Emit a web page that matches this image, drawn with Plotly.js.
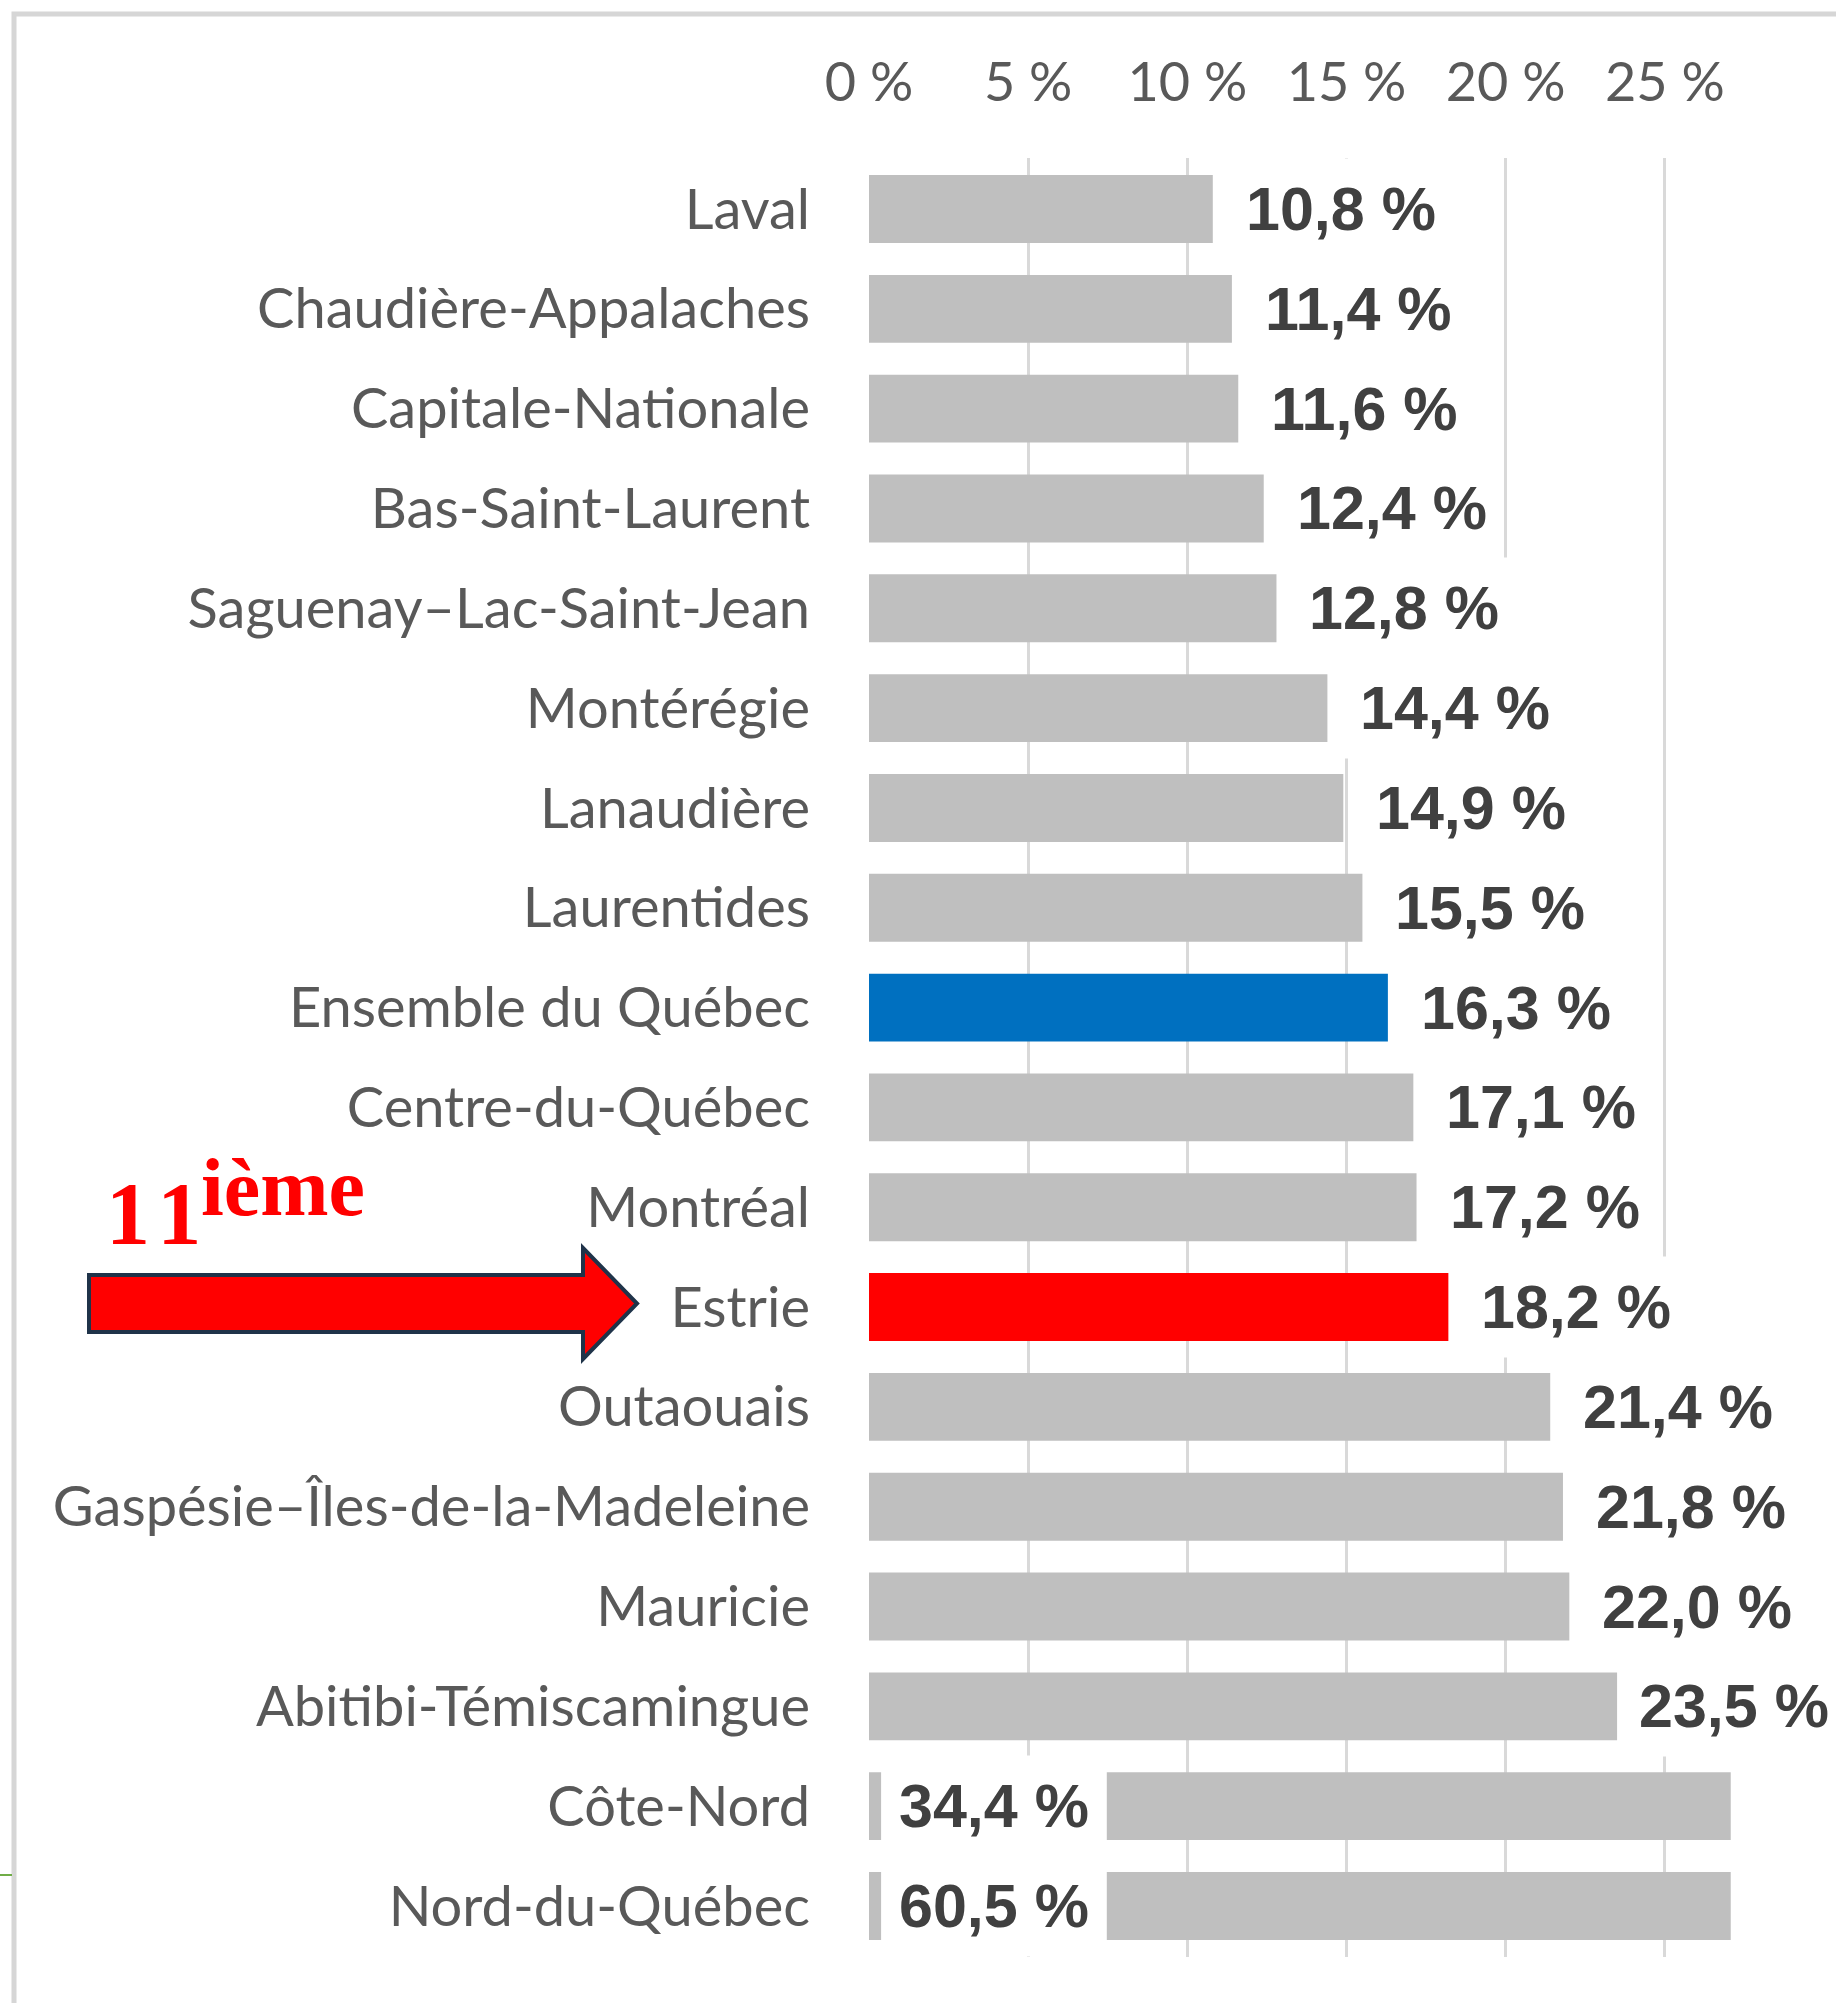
<!DOCTYPE html>
<html>
<head>
<meta charset="utf-8">
<script src="https://cdn.plot.ly/plotly-3.0.1.min.js"></script>
<style>
  html, body { margin: 0; padding: 0; background: #ffffff; }
  #chart { width: 1836px; height: 2003px; }
</style>
</head>
<body>
<div id="chart"></div>
<script>
// ---- data ----
const categories = [
  "Laval", "Chaudière-Appalaches", "Capitale-Nationale", "Bas-Saint-Laurent",
  "Saguenay–Lac-Saint-Jean", "Montérégie", "Lanaudière", "Laurentides",
  "Ensemble du Québec", "Centre-du-Québec", "Montréal", "Estrie", "Outaouais",
  "Gaspésie–Îles-de-la-Madeleine", "Mauricie", "Abitibi-Témiscamingue",
  "Côte-Nord", "Nord-du-Québec"
];
const values = [10.8, 11.4, 11.6, 12.4, 12.8, 14.4, 14.9, 15.5, 16.3, 17.1, 17.2, 18.2, 21.4, 21.8, 22.0, 23.5, 34.4, 60.5];
const tickValues = [0, 5, 10, 15, 20, 25];
const tickLabels = ["0 %", "5 %", "10 %", "15 %", "20 %", "25 %"];
const highlightAll = "Ensemble du Québec";
const highlightRegion = "Estrie";
const rankLabel = "1\u200A1";
const rankSuffix = "ième";

// ---- display settings (axis break for off-scale bars) ----
const axisMax = 30;
const axisCap = 27.07;     // off-scale bars drawn to this length
const breakStart = 0.38;   // stub before the break
const breakEnd = 7.47;     // bar resumes after the label gap
const squeezeFrom = 23;    // labels of bars this long are pulled closer

const colGray = "#BFBFBF", colBlue = "#0070C0", colRed = "#FF0000";
const W = 1836, H = 2003;
const L = 869, T = 158, PW = 955, PH = 1799;
const px = x => (x - L) / PW;
const py = y => 1 - (y - T) / PH;

const isBroken = values.map(v => v > axisCap);
const colors = categories.map(c => c === highlightAll ? colBlue : (c === highlightRegion ? colRed : colGray));
const fmt = v => v.toFixed(1).replace('.', ',') + ' %';

const mainTrace = {
  type: 'bar', orientation: 'h',
  y: categories,
  x: values.map((v, i) => isBroken[i] ? breakStart : v),
  marker: { color: colors, line: { width: 0 } },
  width: 0.68,
  hoverinfo: 'skip', cliponaxis: false
};
const brokenCats = categories.filter((c, i) => isBroken[i]);
const tailTrace = {
  type: 'bar', orientation: 'h',
  y: brokenCats,
  base: brokenCats.map(() => breakEnd),
  x: brokenCats.map(() => axisCap - breakEnd),
  marker: { color: colGray, line: { width: 0 } },
  width: 0.68,
  hoverinfo: 'skip', cliponaxis: false
};

const PAD = 16;
const valueFont = { family: "'Liberation Sans Narrow', 'Liberation Sans', Lato, sans-serif", size: 61, color: '#404040', weight: 700 };
const annotations = categories.map((c, i) => ({
  xref: 'x', yref: 'y',
  x: isBroken[i] ? breakStart : values[i],
  y: c,
  xanchor: 'left', yanchor: 'middle',
  xshift: isBroken[i] ? (17 - PAD) : (values[i] >= squeezeFrom ? (21 - PAD) : (32 - PAD)),
  text: fmt(values[i]),
  showarrow: false,
  font: valueFont,
  bgcolor: '#FFFFFF',
  borderpad: PAD,
  height: 100 - 2 * PAD,
  valign: 'middle'
}));

const serif = "'Liberation Serif', 'Times New Roman', serif";
annotations.push({
  xref: 'paper', yref: 'paper', x: px(104), y: py(1213),
  xanchor: 'left', yanchor: 'middle', showarrow: false,
  text: rankLabel,
  font: { family: serif, size: 88, color: '#FF0000', weight: 700 }
});
annotations.push({
  xref: 'paper', yref: 'paper', x: px(199), y: py(1187),
  xanchor: 'left', yanchor: 'middle', showarrow: false,
  text: rankSuffix,
  font: { family: serif, size: 82, color: '#FF0000', weight: 700 }
});

const arrowPts = [[89,1275],[583,1275],[583,1248],[637,1303.5],[583,1359],[583,1332],[89,1332]];
const arrowPath = 'M ' + arrowPts.map(p => px(p[0]).toFixed(5) + ',' + py(p[1]).toFixed(5)).join(' L ') + ' Z';

const shapes = [
  { type: 'rect', xref: 'paper', yref: 'paper', x0: px(14), x1: px(W + 20), y0: py(14), y1: py(H + 20),
    line: { color: '#D6D6D6', width: 5 }, fillcolor: 'rgba(0,0,0,0)', layer: 'below' },
  { type: 'line', xref: 'paper', yref: 'paper', x0: px(0), x1: px(12), y0: py(1875), y1: py(1875),
    line: { color: '#70AD47', width: 2 } },
  { type: 'path', xref: 'paper', yref: 'paper', path: arrowPath,
    fillcolor: '#FF0000', line: { color: '#1F3349', width: 4 }, layer: 'above' }
];

const labelFont = "Lato, 'Open Sans', sans-serif";
const layout = {
  width: W, height: H,
  margin: { l: L, r: W - L - PW, t: T, b: H - T - PH, pad: 0 },
  paper_bgcolor: '#FFFFFF', plot_bgcolor: '#FFFFFF',
  showlegend: false,
  barmode: 'overlay',
  font: { family: labelFont, color: '#595959' },
  xaxis: {
    range: [0, axisMax], side: 'top',
    tickmode: 'array', tickvals: tickValues, ticktext: tickLabels,
    showgrid: true, gridcolor: '#D9D9D9', gridwidth: 3,
    zeroline: false, showline: false, ticks: '',
    ticklabelstandoff: 45,
    tickfont: { family: labelFont, size: 54, color: '#595959' },
    fixedrange: true
  },
  yaxis: {
    type: 'category', categoryorder: 'array', categoryarray: categories,
    autorange: 'reversed',
    showgrid: false, zeroline: false, showline: false, ticks: '',
    ticklabelstandoff: 58,
    tickfont: { family: labelFont, size: 56, color: '#595959' },
    fixedrange: true
  },
  annotations: annotations,
  shapes: shapes
};

Plotly.newPlot('chart', [mainTrace, tailTrace], layout, { staticPlot: true, displayModeBar: false });
</script>
</body>
</html>
